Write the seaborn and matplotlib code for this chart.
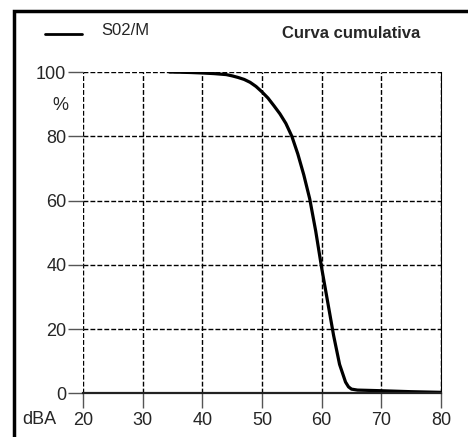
import matplotlib
matplotlib.use("Agg")

import matplotlib.pyplot as plt
import seaborn as sns
from matplotlib.lines import Line2D

# Cumulative curve (dBA vs % of time exceeded)
level_dba = [34.5, 36, 38, 40, 42, 44, 45, 46, 47, 48, 49, 50, 51, 52, 53, 54,
             55, 56, 57, 58, 59, 60, 61, 62, 63, 64, 64.5, 65, 66, 70, 75, 80]
percent = [100, 99.95, 99.85, 99.7, 99.5, 99.2, 98.8, 98.3, 97.7, 96.8, 95.5,
           93.8, 91.9, 89.5, 87, 84, 80, 74.5, 68, 60.5, 50.5, 39, 28.5, 18,
           9, 3.5, 2, 1.3, 1.0, 0.8, 0.5, 0.3]

x_ticks = [20, 30, 40, 50, 60, 70, 80]
y_ticks = [0, 20, 40, 60, 80, 100]
series_name = "S02/M"
chart_title = "Curva cumulativa"

sns.set_style("white")
plt.rcParams["font.family"] = ["Liberation Sans", "DejaVu Sans"]

fig = plt.figure(figsize=(4.68, 4.37), dpi=100)
ax = fig.add_axes([0.1774, 0.1, 0.9423 - 0.1774, 0.8352 - 0.1])

sns.lineplot(x=level_dba, y=percent, color="black", linewidth=2.3, ax=ax)

ax.set_xlim(20, 80)
ax.set_ylim(0, 100)
ax.set_xticks(x_ticks)
ax.set_yticks(y_ticks)
ax.tick_params(axis="both", direction="out", length=11, width=1,
               color="#555555", labelsize=13, pad=1, left=True, bottom=True)
ax.tick_params(axis="x", pad=2.5)
ax.grid(True, color="black", linestyle=(0, (3.5, 1.5)), linewidth=1)
ax.set_axisbelow(True)

for side in ["top", "left"]:
    ax.spines[side].set_visible(False)
ax.spines["right"].set_color("black")
ax.spines["right"].set_linewidth(0.8)
ax.spines["bottom"].set_color("#222222")
ax.spines["bottom"].set_linewidth(1.6)

# "%" unit label under 100 and "dBA" at the bottom left
fig.text(68.5 / 468, 1 - 106 / 437, "%", ha="right", va="center", fontsize=13)
fig.text(22.7 / 468, 1 - 420 / 437, "dBA", ha="left", va="center", fontsize=13)

# legend line + series name, and title
fig.add_artist(Line2D([45 / 468, 82 / 468], [1 - 34 / 437, 1 - 34 / 437],
                      color="black", linewidth=2, transform=fig.transFigure))
fig.text(101.7 / 468, 1 - 30.5 / 437, series_name, ha="left", va="center", fontsize=12)
fig.text(281.7 / 468, 1 - 33 / 437, chart_title, ha="left", va="center",
         fontsize=12, fontweight="bold")

# outer frame (top and left edges)
fig.add_artist(Line2D([14 / 468, 14 / 468, 1.0], [0.0, 1 - 11 / 437, 1 - 11 / 437],
                      color="black", linewidth=2.5, transform=fig.transFigure,
                      solid_joinstyle="miter"))

fig.savefig("out.png", dpi=100)
